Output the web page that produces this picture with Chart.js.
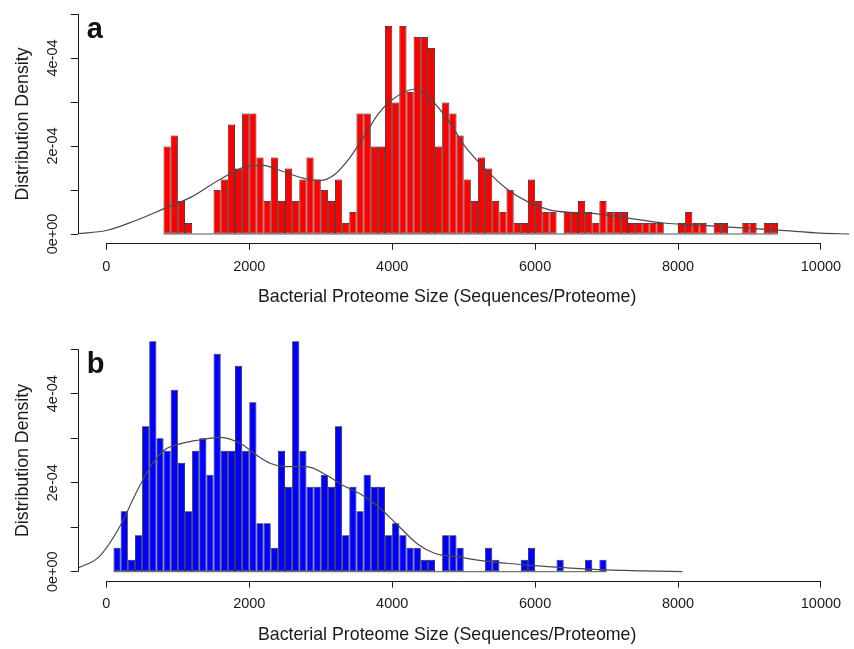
<!DOCTYPE html>
<html><head><meta charset="utf-8">
<script src="https://cdn.jsdelivr.net/npm/chart.js@4.4.0/dist/chart.umd.min.js"></script>
<style>
html,body{margin:0;padding:0;background:#fff;}
#wrap{position:relative;width:854px;height:649px;overflow:hidden;background:#fff;}
canvas{position:absolute;left:0;}
</style></head><body>
<div id="wrap">
<canvas id="ca" style="top:0;width:854px;height:325px"></canvas>
<canvas id="cb" style="top:325px;width:854px;height:324px"></canvas>
</div>
<script>
// ---------- data (densities in units of 1e-04) ----------
const binWidth = 100;
const xTickValues = [0, 2000, 4000, 6000, 8000, 10000];
const xTickLabels = ['0', '2000', '4000', '6000', '8000', '10000'];
const yTickValues = [0, 1, 2, 3, 4, 5];
const yTickLabels = ['0e+00', '', '2e-04', '', '4e-04', ''];
const xTitle = 'Bacterial Proteome Size (Sequences/Proteome)';
const yTitle = 'Distribution Density';

// panel a: bins of 100 starting at 800
const aBinStart = 800;
const aDensity = [
  1.99, 2.24, 0.75, 0.25, 0, 0, 0, 1.00, 1.24, 2.49,
  1.49, 2.74, 2.74, 1.74, 0.75, 1.74, 0.75, 1.49, 0.75, 1.24,
  1.74, 1.24, 1.00, 0.75, 1.24, 0.25, 0.50, 2.74, 2.74, 1.99,
  1.99, 4.73, 2.99, 4.73, 3.23, 4.48, 4.48, 4.23, 1.99, 2.99,
  2.74, 2.24, 1.24, 0.75, 1.74, 1.49, 0.75, 0.50, 1.00, 0.25,
  0.25, 1.24, 0.75, 0.50, 0.50, 0, 0.50, 0.50, 0.75, 0.50,
  0.25, 0.75, 0.50, 0.50, 0.50, 0.25, 0.25, 0.25, 0.25, 0.25,
  0, 0, 0.25, 0.50, 0.25, 0.25, 0, 0.25, 0.25, 0,
  0, 0.25, 0.25, 0, 0.25, 0.25
];
const aCurveX = [-400, 0, 400, 800, 1200, 1600, 2000, 2200, 2400, 2800, 3000, 3200, 3400, 3600, 3800, 4000, 4300, 4500, 4800, 5000, 5300, 5600, 5900, 6200, 6500, 6800, 7100, 7400, 7800, 8300, 8900, 9400, 10000, 10400];
const aCurveY = [0.01, 0.08, 0.30, 0.57, 0.85, 1.25, 1.55, 1.56, 1.46, 1.25, 1.22, 1.36, 1.72, 2.20, 2.72, 3.05, 3.29, 3.12, 2.55, 2.03, 1.48, 1.03, 0.73, 0.55, 0.49, 0.47, 0.41, 0.34, 0.25, 0.20, 0.14, 0.09, 0.02, 0.00];

// panel b: bins of 100 starting at 100
const bBinStart = 100;
const bDensity = [
  0.54, 1.36, 0.27, 0.82, 3.27, 5.18, 3.00, 2.72, 4.09, 2.45,
  1.36, 2.72, 3.00, 2.18, 4.90, 2.72, 2.72, 4.63, 2.72, 3.81,
  1.09, 1.09, 0.54, 2.72, 1.91, 5.18, 2.72, 1.91, 1.91, 2.18,
  1.91, 3.27, 0.82, 1.91, 1.36, 2.18, 1.91, 1.91, 0.82, 1.09,
  0.82, 0.54, 0.54, 0.27, 0.27, 0, 0.82, 0.82, 0.54, 0,
  0, 0, 0.54, 0.27, 0, 0, 0, 0.27, 0.54, 0,
  0, 0, 0.27, 0, 0, 0, 0.27, 0, 0.27
];
const bCurveX = [-400, -100, 200, 400, 600, 800, 1100, 1300, 1600, 1900, 2100, 2300, 2500, 2800, 3100, 3300, 3550, 3800, 4050, 4350, 4600, 4900, 5200, 5600, 6050, 6500, 7000, 7500, 8060];
const bCurveY = [0.08, 0.34, 1.05, 1.72, 2.32, 2.72, 2.90, 2.96, 3.02, 2.86, 2.62, 2.43, 2.36, 2.36, 2.15, 1.95, 1.75, 1.47, 1.09, 0.63, 0.41, 0.34, 0.26, 0.19, 0.13, 0.08, 0.04, 0.02, 0.00];

// ---------- drawing ----------
const FAMILY = '"Liberation Sans", Arial, Helvetica, sans-serif';
const TXT = '#1a1a1a';
const X_TITLE_SHIFT = -16.5;   // the reference's x-axis title sits a little left of the plot centre

const axisPlugin = {
  id: 'rAxes',
  afterDraw(chart, args, opts) {
    const {ctx, chartArea, scales: {x, y}} = chart;
    ctx.save();
    ctx.strokeStyle = TXT;
    ctx.lineWidth = 1;
    const by = Math.round(chartArea.bottom) + 0.5;
    const lx = Math.round(chartArea.left) + 0.5;
    ctx.beginPath();
    ctx.moveTo(x.getPixelForValue(xTickValues[0]), by);
    ctx.lineTo(x.getPixelForValue(xTickValues[xTickValues.length - 1]), by);
    ctx.moveTo(lx, y.getPixelForValue(yTickValues[0]));
    ctx.lineTo(lx, y.getPixelForValue(yTickValues[yTickValues.length - 1]));
    ctx.stroke();
    ctx.fillStyle = '#111';
    ctx.font = 'bold 29px ' + FAMILY;
    ctx.textBaseline = 'alphabetic';
    ctx.textAlign = 'left';
    ctx.fillText(opts.letter, chartArea.left + 9, y.getPixelForValue(yTickValues[yTickValues.length - 1]) + 24);
    ctx.restore();
  }
};

function makeChart(id, p) {
  const canvas = document.getElementById(id);
  canvas.width = 854; canvas.height = p.canvasH;
  const bars = p.density.map((d, i) => ({x: p.binStart + i * binWidth + binWidth / 2, y: d}));
  const curve = p.curveX.map((xv, i) => ({x: xv, y: p.curveY[i]}));
  const base = [{x: p.binStart, y: 0}, {x: p.binStart + p.density.length * binWidth, y: 0}];
  return new Chart(canvas, {
    type: 'bar',
    data: {
      datasets: [
        {type: 'line', data: base, borderColor: '#555', borderWidth: 1, pointRadius: 0, order: 3},
        {type: 'bar', data: bars, backgroundColor: p.color, borderColor: '#111',
         borderSkipped: false, inflateAmount: 0,
         borderWidth: (c) => (p.density[c.dataIndex] ? 0.8 : 0),
         barPercentage: 1, categoryPercentage: 1, order: 2},
        {type: 'line', data: curve, borderColor: '#4a4a4a', borderWidth: 1.2, pointRadius: 0,
         cubicInterpolationMode: 'monotone', order: 1}
      ]
    },
    options: {
      responsive: false, animation: false, devicePixelRatio: 1, events: [],
      layout: {padding: {left: 0, right: 854 - p.plotRight, top: p.plotTop, bottom: 0}},
      plugins: {legend: {display: false}, tooltip: {enabled: false}, rAxes: {letter: p.letter}},
      scales: {
        x: {
          type: 'linear', min: -400, max: 10400, offset: false,
          afterBuildTicks: (s) => { s.ticks = xTickValues.map(v => ({value: v})); },
          afterFit: (s) => {
            s.height = p.canvasH - p.plotBottom; s.paddingLeft = 0; s.paddingRight = 0;
            if (!s._titleShifted) {
              const orig = s.drawTitle;
              s.drawTitle = function () {
                this.ctx.save(); this.ctx.translate(X_TITLE_SHIFT, 0); orig.call(this); this.ctx.restore();
              };
              s._titleShifted = true;
            }
          },
          grid: {display: true, offset: false, drawOnChartArea: false, drawTicks: true, tickLength: 7, color: TXT, lineWidth: 1},
          border: {display: false},
          ticks: {font: {family: FAMILY, size: 14.5}, color: TXT, padding: 8, maxRotation: 0, minRotation: 0, autoSkip: false,
                  callback: (v, i) => xTickLabels[i]},
          title: {display: true, text: xTitle, font: {family: FAMILY, size: 17.8}, color: TXT, padding: {top: 0, bottom: p.xTitlePad}}
        },
        y: {
          type: 'linear', min: -0.2, max: 5.2,
          afterBuildTicks: (s) => { s.ticks = yTickValues.map(v => ({value: v})); },
          afterFit: (s) => { s.width = p.plotLeft; s.paddingTop = 0; s.paddingBottom = 0; },
          grid: {display: true, offset: false, drawOnChartArea: false, drawTicks: true, tickLength: 7, color: TXT, lineWidth: 1},
          border: {display: false},
          ticks: {font: {family: FAMILY, size: 14.5}, color: TXT, padding: -2.6, minRotation: 90, maxRotation: 90,
                  autoSkip: false, crossAlign: 'center', callback: (v, i) => yTickLabels[i]},
          title: {display: true, text: yTitle, font: {family: FAMILY, size: 17.8}, color: TXT, padding: {top: 12.3, bottom: 0}}
        }
      }
    },
    plugins: [axisPlugin]
  });
}

makeChart('ca', {letter: 'a', color: '#ff0000', binStart: aBinStart, density: aDensity, curveX: aCurveX, curveY: aCurveY,
  canvasH: 325, plotLeft: 77.8, plotRight: 849.5, plotTop: 5.2, plotBottom: 242.8, xTitlePad: 17.3});
makeChart('cb', {letter: 'b', color: '#0000ff', binStart: bBinStart, density: bDensity, curveX: bCurveX, curveY: bCurveY,
  canvasH: 324, plotLeft: 77.8, plotRight: 849.5, plotTop: 15.3, plotBottom: 255.6, xTitlePad: 3.6});
</script>
</body></html>
